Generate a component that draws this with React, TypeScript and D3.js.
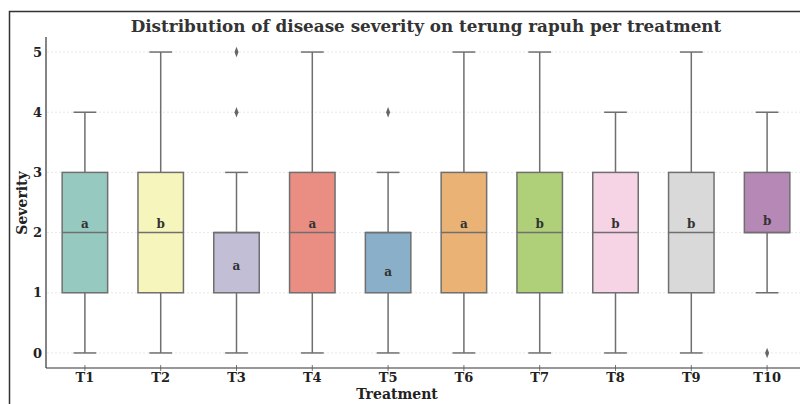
import { useEffect, useRef } from "react";
import * as d3 from "d3";

const treatments = ["T1", "T2", "T3", "T4", "T5", "T6", "T7", "T8", "T9", "T10"];
const whiskerLow = [0, 0, 0, 0, 0, 0, 0, 0, 0, 1];
const q1 = [1, 1, 1, 1, 1, 1, 1, 1, 1, 2];
const medians = [2, 2, 2, 2, 2, 2, 2, 2, 2, 2];
const q3 = [3, 3, 2, 3, 2, 3, 3, 3, 3, 3];
const whiskerHigh = [4, 5, 3, 5, 3, 5, 5, 4, 5, 4];
const outliers = [[], [], [4, 5], [], [4], [], [], [], [], [0]];
const letters = ["a", "b", "a", "a", "a", "a", "b", "b", "b", "b"];
const means = [2.14, 2.14, 1.45, 2.14, 1.35, 2.14, 2.14, 2.14, 2.14, 2.19];
const yTicks = [0, 1, 2, 3, 4, 5];
const palette = ["#8dd3c7", "#ffffb3", "#bebada", "#fb8072", "#80b1d3", "#fdb462", "#b3de69", "#fccde5", "#d9d9d9", "#bc80bd"];

const W = 800;
const H = 404;
const FONT = "'DejaVu Serif', serif";

export default function App() {
  const ref = useRef<SVGSVGElement>(null);

  useEffect(() => {
    document.body.style.margin = "0";
    const svg = d3.select(ref.current);
    svg.selectAll("*").remove();

    const x = d3.scaleBand().domain(treatments).range([47, 805]);
    const y = d3.scaleLinear().domain([-0.25, 5.25]).range([368, 37]);
    const bw = x.bandwidth() * 0.6;
    const cx = (i: number) => (x(treatments[i]) as number) + x.bandwidth() / 2;
    const lineCol = "#6f6f6f";

    const fill = (c: string) => {
      const h = d3.hsl(c);
      h.s *= 0.75;
      return h.formatHex();
    };

    // frame
    svg.append("path").attr("d", "M9.5,404 V11.5 H800").attr("fill", "none").attr("stroke", "#333").attr("stroke-width", 1.5);

    // grid
    svg.append("g").selectAll("line").data(yTicks).join("line")
      .attr("x1", 47).attr("x2", 805)
      .attr("y1", (d) => y(d)).attr("y2", (d) => y(d))
      .attr("stroke", "#e3e3e3").attr("stroke-width", 0.8).attr("stroke-dasharray", "2,2");

    const g = svg.append("g");
    treatments.forEach((t, i) => {
      const c = cx(i);
      // whiskers
      g.append("line").attr("x1", c).attr("x2", c).attr("y1", y(whiskerLow[i])).attr("y2", y(q1[i]))
        .attr("stroke", lineCol).attr("stroke-width", 1.5);
      g.append("line").attr("x1", c).attr("x2", c).attr("y1", y(q3[i])).attr("y2", y(whiskerHigh[i]))
        .attr("stroke", lineCol).attr("stroke-width", 1.5);
      [whiskerLow[i], whiskerHigh[i]].forEach((v) => {
        g.append("line").attr("x1", c - bw / 4).attr("x2", c + bw / 4).attr("y1", y(v)).attr("y2", y(v))
          .attr("stroke", lineCol).attr("stroke-width", 1.5);
      });
      // box
      g.append("rect").attr("x", c - bw / 2).attr("width", bw)
        .attr("y", y(q3[i])).attr("height", y(q1[i]) - y(q3[i]))
        .attr("fill", fill(palette[i])).attr("stroke", lineCol).attr("stroke-width", 1.5);
      g.append("line").attr("x1", c - bw / 2).attr("x2", c + bw / 2).attr("y1", y(medians[i])).attr("y2", y(medians[i]))
        .attr("stroke", lineCol).attr("stroke-width", 1.5);
      // outliers
      outliers[i].forEach((v) => {
        g.append("path").attr("d", d3.symbol(d3.symbolDiamond, 22)()).attr("transform", `translate(${c},${y(v)}) scale(0.8,1.2)`)
          .attr("fill", "#666");
      });
      // letter
      g.append("text").attr("x", c).attr("y", y(means[i])).attr("dy", "0.35em")
        .attr("text-anchor", "middle").attr("font-family", FONT).attr("font-weight", "bold")
        .attr("font-size", 12).attr("fill", "#333").text(letters[i]);
    });

    // axes spines
    svg.append("line").attr("x1", 46).attr("x2", 46).attr("y1", 37).attr("y2", 368).attr("stroke", "#333").attr("stroke-width", 1.2);
    svg.append("line").attr("x1", 46).attr("x2", 805).attr("y1", 368).attr("y2", 368).attr("stroke", "#333").attr("stroke-width", 1.2);

    // y ticks
    svg.append("g").selectAll("text").data(yTicks).join("text")
      .attr("x", 42).attr("y", (d) => y(d)).attr("dy", "0.35em").attr("text-anchor", "end")
      .attr("font-family", FONT).attr("font-weight", "bold").attr("font-size", 13).attr("fill", "#222")
      .text((d) => d);

    // x ticks
    const xt = svg.append("g");
    treatments.forEach((t, i) => {
      xt.append("line").attr("x1", cx(i)).attr("x2", cx(i)).attr("y1", 365).attr("y2", 371)
        .attr("stroke", "#555").attr("stroke-width", 0.8);
      xt.append("text").attr("x", cx(i)).attr("y", 382).attr("text-anchor", "middle")
        .attr("font-family", FONT).attr("font-weight", "bold").attr("font-size", 13).attr("fill", "#222").text(t);
    });

    // labels
    svg.append("text").attr("x", 397).attr("y", 399).attr("text-anchor", "middle")
      .attr("font-family", FONT).attr("font-weight", "bold").attr("font-size", 14).attr("fill", "#222").text("Treatment");
    svg.append("text").attr("transform", "translate(27,203) rotate(-90)").attr("text-anchor", "middle")
      .attr("font-family", FONT).attr("font-weight", "bold").attr("font-size", 14).attr("fill", "#222").text("Severity");
    svg.append("text").attr("x", 426).attr("y", 32).attr("text-anchor", "middle")
      .attr("font-family", FONT).attr("font-weight", "bold").attr("font-size", 16.8).attr("fill", "#333")
      .text("Distribution of disease severity on terung rapuh per treatment");
  }, []);

  return <svg ref={ref} width={W} height={H} style={{ display: "block", background: "#fff" }} />;
}
